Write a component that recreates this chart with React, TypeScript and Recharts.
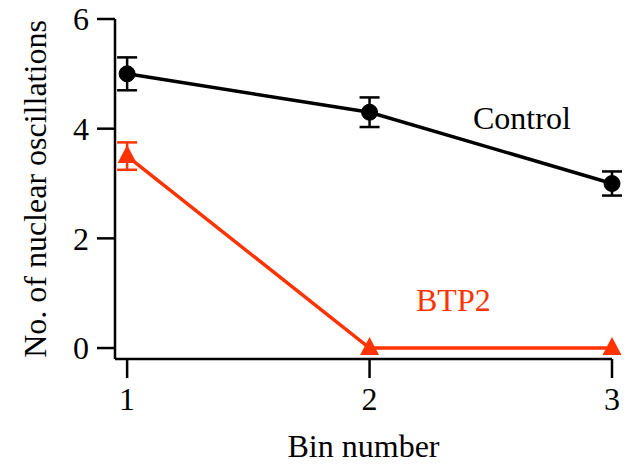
import React from "react";
import { LineChart, Line, XAxis, YAxis, ErrorBar } from "recharts";

const bins = [1, 2, 3];
const controlMean = [5, 4.3, 3.0];
const controlErr = [0.3, 0.27, 0.22];
const btp2Mean = [3.5, 0, 0];
const btp2Err = [0.25, 0, 0];
const yTicks = [0, 2, 4, 6];

const red = "#ff3300";
const font = "'Liberation Serif', 'Times New Roman', serif";

const data = bins.map((bin, i) => ({
  bin,
  control: controlMean[i],
  controlErr: controlErr[i],
  btp2: btp2Mean[i],
  btp2Err: btp2Err[i]
}));

function Triangle(props: any) {
  const { cx, cy } = props;
  if (cx == null || cy == null) return null;
  return <polygon points={`${cx},${cy - 11} ${cx - 9.5},${cy + 7} ${cx + 9.5},${cy + 7}`} fill={red} />;
}

const tickStyle = { fill: "#000", fontSize: 32, fontFamily: font };

export default function App() {
  return (
    <div style={{ position: "absolute", left: 0, top: 0, width: 628, height: 469, background: "#fff" }}>
      <LineChart width={628} height={469} data={data} margin={{ top: 19, right: 16, bottom: 0, left: 0 }}>
        <XAxis
          dataKey="bin"
          type="number"
          domain={[0.95, 3]}
          ticks={bins}
          height={110}
          tickSize={19}
          tickMargin={9}
          stroke="#000"
          strokeWidth={2.5}
          tick={tickStyle}
          label={{ value: "Bin number", position: "insideBottom", offset: 12, fill: "#000", fontSize: 32, fontFamily: font }}
        />
        <YAxis
          type="number"
          domain={[-0.2, 6]}
          ticks={yTicks}
          width={115}
          tickSize={18}
          tickMargin={8}
          stroke="#000"
          strokeWidth={2.5}
          tick={tickStyle}
          label={{
            value: "No. of nuclear oscillations",
            angle: -90,
            position: "insideLeft",
            offset: 35,
            fill: "#000",
            fontSize: 32,
            fontFamily: font,
            style: { textAnchor: "middle" }
          }}
        />
        <Line
          dataKey="control"
          stroke="#000"
          strokeWidth={3.5}
          isAnimationActive={false}
          dot={{ r: 8, fill: "#000", stroke: "#000", strokeWidth: 1 }}
        >
          <ErrorBar dataKey="controlErr" width={10} strokeWidth={2.5} stroke="#000" direction="y" />
        </Line>
        <Line dataKey="btp2" stroke={red} strokeWidth={3.5} isAnimationActive={false} dot={<Triangle />}>
          <ErrorBar dataKey="btp2Err" width={10} strokeWidth={2.5} stroke={red} direction="y" />
        </Line>
      </LineChart>
      <div style={{ position: "absolute", left: 473, top: 100, fontFamily: font, fontSize: 32, color: "#000" }}>Control</div>
      <div style={{ position: "absolute", left: 416, top: 282, fontFamily: font, fontSize: 32, color: red }}>BTP2</div>
    </div>
  );
}
